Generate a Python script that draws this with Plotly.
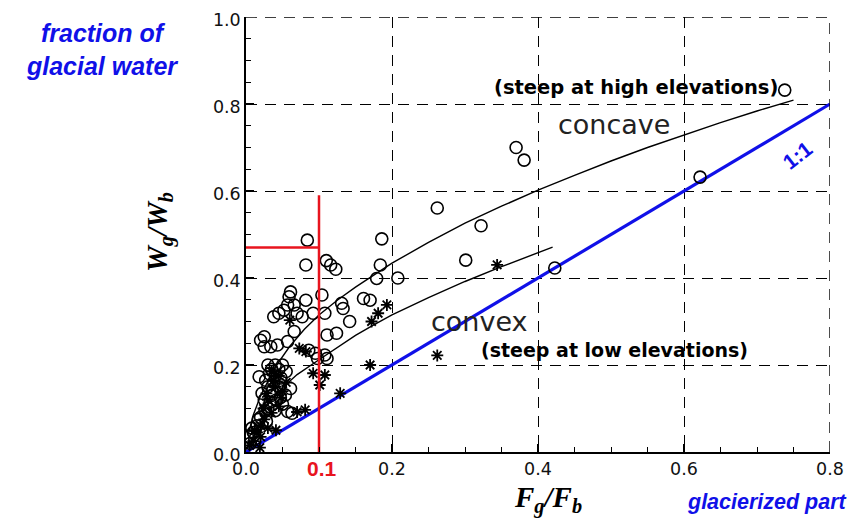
import plotly.graph_objects as go

# ---- data ----
circle_x = [0.738, 0.37, 0.381, 0.622, 0.262, 0.322, 0.301, 0.423, 0.186, 0.184, 0.179, 0.208,
            0.084, 0.082, 0.11, 0.116, 0.123, 0.104, 0.161, 0.170, 0.131, 0.133, 0.142, 0.108,
            0.092, 0.111, 0.124, 0.061, 0.059, 0.082, 0.057, 0.066, 0.052, 0.070, 0.038, 0.045,
            0.077, 0.066, 0.025, 0.020, 0.025, 0.034, 0.043, 0.057, 0.086, 0.095, 0.098, 0.108,
            0.111, 0.018, 0.022, 0.025, 0.057, 0.063, 0.061, 0.054, 0.030, 0.035, 0.040, 0.045,
            0.050, 0.032, 0.040, 0.048, 0.038, 0.045, 0.030, 0.035, 0.042, 0.050, 0.030, 0.040,
            0.020, 0.028, 0.015, 0.010, 0.012, 0.006, 0.004, 0.008, 0.055, 0.027, 0.036, 0.047,
            0.033, 0.026, 0.017]
circle_y = [0.832, 0.70, 0.671, 0.632, 0.561, 0.52, 0.441, 0.423, 0.49, 0.43, 0.399, 0.40,
            0.487, 0.43, 0.44, 0.43, 0.42, 0.361, 0.353, 0.349, 0.342, 0.330, 0.30, 0.319,
            0.319, 0.269, 0.273, 0.368, 0.357, 0.349, 0.338, 0.338, 0.326, 0.319, 0.311, 0.319,
            0.311, 0.277, 0.265, 0.257, 0.242, 0.242, 0.246, 0.254, 0.234, 0.227, 0.215, 0.223,
            0.215, 0.173, 0.135, 0.12, 0.093, 0.089, 0.146, 0.131, 0.20, 0.19, 0.20, 0.19,
            0.20, 0.18, 0.175, 0.17, 0.16, 0.15, 0.15, 0.13, 0.12, 0.11, 0.10, 0.095,
            0.08, 0.07, 0.06, 0.045, 0.03, 0.02, 0.035, 0.055, 0.185, 0.165, 0.14, 0.125,
            0.115, 0.095, 0.075]

star_x = [0.344, 0.262, 0.172, 0.181, 0.193, 0.170, 0.129, 0.092, 0.108, 0.101, 0.073, 0.082,
          0.070, 0.081, 0.041, 0.060, 0.035, 0.045, 0.040, 0.050, 0.030, 0.045, 0.035, 0.025,
          0.020, 0.015, 0.010, 0.005, 0.020, 0.030, 0.055, 0.019, 0.038, 0.028, 0.048, 0.024,
          0.012]
star_y = [0.43, 0.222, 0.30, 0.319, 0.338, 0.20, 0.135, 0.181, 0.177, 0.154, 0.238, 0.231,
          0.092, 0.097, 0.05, 0.303, 0.185, 0.175, 0.15, 0.14, 0.12, 0.105, 0.09, 0.075,
          0.06, 0.045, 0.025, 0.015, 0.035, 0.055, 0.16, 0.01, 0.165, 0.135, 0.125, 0.1,
          0.05]

concave_x = [0.003, 0.01, 0.02, 0.04, 0.06, 0.08, 0.1, 0.125, 0.15, 0.175, 0.2, 0.25, 0.3, 0.35,
             0.4, 0.45, 0.5, 0.55, 0.6, 0.65, 0.7, 0.75]
concave_y = [0.04, 0.085, 0.13, 0.195, 0.243, 0.282, 0.315, 0.349, 0.379, 0.407, 0.434, 0.482,
             0.526, 0.565, 0.602, 0.636, 0.669, 0.70, 0.729, 0.757, 0.784, 0.809]

convex_x = [0.02, 0.03, 0.05, 0.07, 0.1, 0.125, 0.15, 0.175, 0.2, 0.25, 0.3, 0.35, 0.4, 0.42]
convex_y = [0.085, 0.11, 0.148, 0.178, 0.212, 0.241, 0.268, 0.292, 0.315, 0.355, 0.392, 0.426,
            0.458, 0.471]

one_to_one = [0.0, 0.8]

x_ticks = [0.0, 0.2, 0.4, 0.6, 0.8]
x_tick_labels = ["0.0", "0.2", "0.4", "0.6", "0.8"]
y_ticks = [0.0, 0.2, 0.4, 0.6, 0.8, 1.0]
y_tick_labels = ["0.0", "0.2", "0.4", "0.6", "0.8", "1.0"]

red_x = 0.1
red_y = 0.47
red_top = 0.59

BLUE = "#1010e8"
RED = "#e8141e"

# page has an 8px body margin; compensate so the plot area lands on
# x 246..830 and y 17..452 of the window
BODY = 8
W, H = 856, 522
L, R, T, B = 246, 830, 17, 452


def px(xp):
    return (xp - L) / (R - L)


def py(yp):
    return (B - yp) / (B - T)


fig = go.Figure()

fig.add_trace(go.Scatter(x=one_to_one, y=one_to_one, mode="lines",
                         line=dict(color=BLUE, width=3.2), hoverinfo="skip"))
fig.add_trace(go.Scatter(x=concave_x, y=concave_y, mode="lines",
                         line=dict(color="black", width=1.4), hoverinfo="skip"))
fig.add_trace(go.Scatter(x=convex_x, y=convex_y, mode="lines",
                         line=dict(color="black", width=1.4), hoverinfo="skip"))
fig.add_trace(go.Scatter(x=circle_x, y=circle_y, mode="markers",
                         marker=dict(symbol="circle-open", size=12, color="black",
                                     line=dict(color="black", width=1.6))))
fig.add_trace(go.Scatter(x=star_x, y=star_y, mode="markers",
                         marker=dict(symbol="asterisk-open", size=10, color="black",
                                     line=dict(color="black", width=1.8))))
# red guide lines
fig.add_trace(go.Scatter(x=[red_x, red_x], y=[0, red_top], mode="lines",
                         line=dict(color=RED, width=2.5), hoverinfo="skip"))
fig.add_trace(go.Scatter(x=[0, red_x], y=[red_y, red_y], mode="lines",
                         line=dict(color=RED, width=2.5), hoverinfo="skip"))

DASH = "11px,8px"
TICKFONT = dict(family="DejaVu Sans, Liberation Sans, Arial", size=17.5, color="#111")

axis_common = dict(
    showline=True, linecolor="black", linewidth=1.5, mirror=False,
    showgrid=True, gridcolor="black", gridwidth=1.4, griddash=DASH,
    zeroline=False, ticks="inside", ticklen=8, tickwidth=1.5, tickcolor="black",
    tickfont=TICKFONT, ticklabeloverflow="allow",
    minor=dict(dtick=0.05, ticks="inside", ticklen=5, tickwidth=1.2, tickcolor="black", showgrid=False),
)

fig.update_xaxes(range=[0, 0.8], tickvals=x_ticks, ticktext=x_tick_labels, **axis_common)
fig.update_yaxes(range=[0, 1.0], tickvals=y_ticks, ticktext=y_tick_labels, ticklabelshift=3,
                 **axis_common)

# dashed grid lines on the top and right edges of the plot
fig.add_shape(type="line", xref="x", yref="y", x0=x_ticks[0], x1=x_ticks[-1],
              y0=y_ticks[-1], y1=y_ticks[-1], line=dict(color="black", width=1.4, dash=DASH))
fig.add_shape(type="line", xref="x", yref="y", x0=x_ticks[-1], x1=x_ticks[-1],
              y0=y_ticks[0], y1=y_ticks[-1], line=dict(color="black", width=1.4, dash=DASH))

SANS = "Liberation Sans, Arial"
WIDE = "DejaVu Sans, Liberation Sans, Arial"
SERIF = "Liberation Serif, Times New Roman"

ann = [
    dict(x=px(636), y=py(87), text="<b>(steep at high elevations)</b>",
         font=dict(family=WIDE, size=19.5, color="black")),
    dict(x=px(614), y=py(124), text="concave",
         font=dict(family=WIDE, size=27, color="#222")),
    dict(x=px(479), y=py(322), text="convex",
         font=dict(family=WIDE, size=27, color="#222")),
    dict(x=px(614), y=py(350), text="<b>(steep at low elevations)</b>",
         font=dict(family=WIDE, size=19, color="black")),
    dict(x=px(797), y=py(155), text="<b>1:1</b>", textangle=-38,
         font=dict(family=SANS, size=21, color=BLUE)),
    dict(x=px(322), y=py(468), text="<b>0.1</b>",
         font=dict(family=SANS, size=21, color=RED)),
    dict(x=px(102), y=py(49), text="<b><i>fraction of<br>glacial water</i></b>", align="center",
         font=dict(family=SANS, size=25, color=BLUE)),
    dict(x=px(767), y=py(502), text="<b><i>glacierized part</i></b>",
         font=dict(family=SANS, size=21.5, color=BLUE)),
    dict(x=px(548), y=py(499), text="<b><i>F<sub>g</sub>/F<sub>b</sub></i></b>",
         font=dict(family=SERIF, size=29, color="black")),
    dict(x=px(160), y=py(232), text="<b><i>W<sub>g</sub>/W<sub>b</sub></i></b>", textangle=-90,
         font=dict(family=SERIF, size=29, color="black")),
]
for a in ann:
    a.update(xref="paper", yref="paper", xanchor="center", yanchor="middle", showarrow=False)

fig.update_layout(
    width=W - BODY, height=H - BODY,
    margin=dict(l=L - BODY, r=W - R, t=T - BODY, b=H - B, autoexpand=False),
    paper_bgcolor="white", plot_bgcolor="white",
    showlegend=False,
    annotations=ann,
)

fig.write_html("out.html")
